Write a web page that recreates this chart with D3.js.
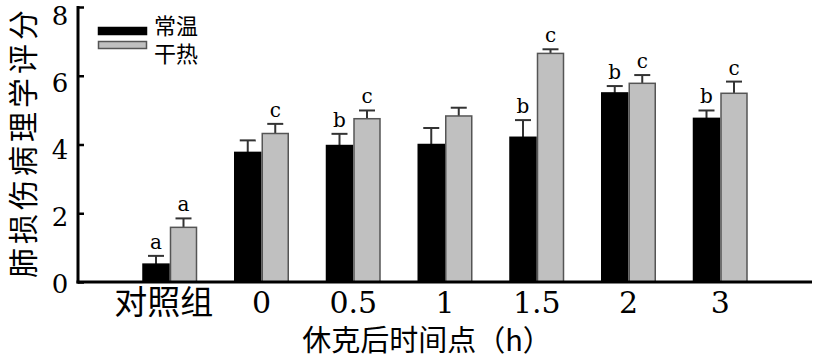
<!DOCTYPE html>
<html><head><meta charset="utf-8">
<script src="https://cdn.jsdelivr.net/npm/d3@7"></script>
<style>body{margin:0;background:#fff;}svg{display:block;}</style>
</head><body>
<script>
const categories = ["对照组","0","0.5","1","1.5","2","3"];
const seriesNames = ["常温","干热"];
const normalTemp = [0.52,3.77,3.97,4.0,4.21,5.50,4.76];
const normalErr  = [0.24,0.35,0.34,0.48,0.50,0.20,0.23];
const dryHeat    = [1.59,4.32,4.75,4.83,6.65,5.78,5.49];
const dryHeatErr = [0.26,0.28,0.24,0.24,0.12,0.24,0.34];
const normalSig  = ["a","","b","","b","b","b"];
const dryHeatSig = ["a","c","c","","c","c","c"];
const yTicks = [0,2,4,6,8];
const yLabel = "肺损伤病理学评分";
const xLabel = "休克后时间点（h）";

const W=813,H=359;
const svg=d3.select("body").append("svg").attr("width",W).attr("height",H);
const x=d3.scalePoint().domain(categories).range([78,812]).padding(1);
const y=d3.scaleLinear().domain([0,8]).range([282,7]);
const bw=27.5;
const series=[
  {name:seriesNames[0],vals:normalTemp,err:normalErr,sig:normalSig,fill:"#000",stroke:"#000",off:-bw},
  {name:seriesNames[1],vals:dryHeat,err:dryHeatErr,sig:dryHeatSig,fill:"#c0c0c0",stroke:"#555",off:0}
];
series.forEach(s=>{
  const g=svg.append("g");
  categories.forEach((c,i)=>{
    const x0=x(c)+s.off, cx=x0+bw/2;
    const top=y(s.vals[i]+s.err[i]);
    g.append("line").attr("x1",cx).attr("x2",cx).attr("y1",y(s.vals[i])).attr("y2",top).attr("stroke","#333").attr("stroke-width",2);
    g.append("line").attr("x1",cx-8).attr("x2",cx+8).attr("y1",top).attr("y2",top).attr("stroke","#333").attr("stroke-width",2);
    g.append("rect").attr("x",x0+0.75).attr("y",y(s.vals[i])).attr("width",bw-1.5).attr("height",y(0)-y(s.vals[i]))
      .attr("fill",s.fill).attr("stroke",s.stroke).attr("stroke-width",1.5);
    if(s.sig[i]) g.append("text").attr("x",cx).attr("y",top-7).attr("text-anchor","middle")
      .attr("font-family","DejaVu Serif").attr("font-size",20).text(s.sig[i]);
  });
});
// axes
const yAxis=svg.append("g").attr("transform","translate(78,0)")
  .call(d3.axisRight(y).tickValues(yTicks).tickSize(6).tickFormat(""));
yAxis.select(".domain").remove();
yAxis.selectAll(".tick line").attr("stroke","#000").attr("stroke-width",2.5);
svg.append("line").attr("x1",78).attr("x2",78).attr("y1",y(8)-1).attr("y2",y(0)+1.5).attr("stroke","#000").attr("stroke-width",3);
svg.append("line").attr("x1",76.5).attr("x2",812).attr("y1",y(0)).attr("y2",y(0)).attr("stroke","#000").attr("stroke-width",3);
yTicks.forEach(t=>{
  svg.append("text").attr("x",60).attr("y",y(t)+11+0.85*t).attr("text-anchor","middle")
    .attr("font-family","DejaVu Serif").attr("font-size",26).text(t);
});
categories.forEach((c,i)=>{
  const isCJK=/[\u4e00-\u9fff]/.test(c);
  svg.append("text").attr("x",x(c)+(isCJK?-6:0)).attr("y",isCJK?314:313).attr("text-anchor","middle")
    .attr("font-family",isCJK?"Noto Sans CJK SC":"DejaVu Serif").attr("font-size",isCJK?33:30).text(c);
});
svg.append("text").attr("x",427).attr("y",351).attr("text-anchor","middle")
  .attr("font-family","Noto Sans CJK SC").attr("font-size",29).text(xLabel);
svg.append("text").attr("transform","translate(34,142) rotate(-90)").attr("text-anchor","middle")
  .attr("font-family","Noto Sans CJK SC").attr("font-size",30).attr("letter-spacing",4).text(yLabel);
// legend
series.forEach((s,i)=>{
  svg.append("rect").attr("x",98.5).attr("y",27.5+i*14).attr("width",48).attr("height",7)
    .attr("fill",s.fill).attr("stroke",s.stroke).attr("stroke-width",1.5);
  svg.append("text").attr("x",154).attr("y",34+i*28).attr("font-family","Noto Sans CJK SC").attr("font-size",22).text(s.name);
});
</script>
</body></html>
